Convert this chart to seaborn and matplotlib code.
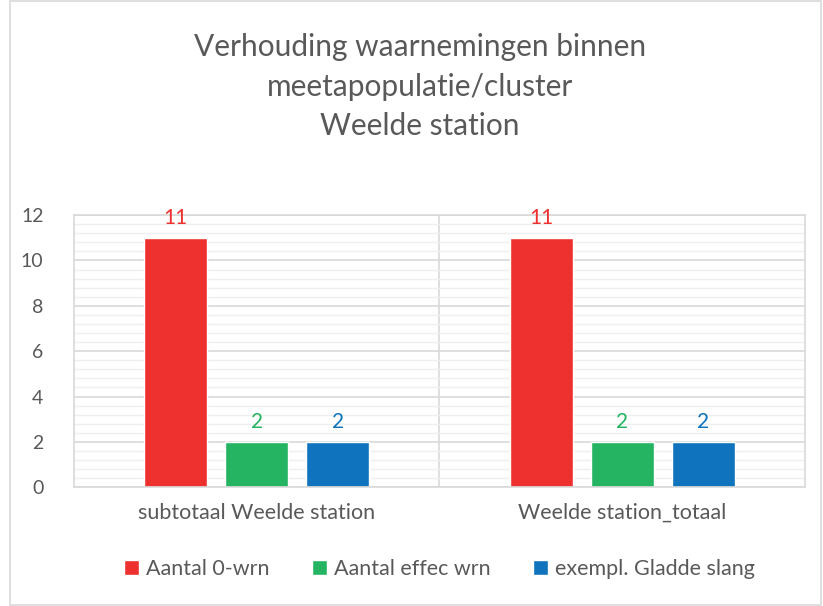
import pandas as pd
import matplotlib.pyplot as plt
import seaborn as sns
from matplotlib.patches import Rectangle
from matplotlib.ticker import MultipleLocator

categories = ["subtotaal Weelde station", "Weelde station_totaal"]
series = ["Aantal 0-wrn", "Aantal effec wrn", "exempl. Gladde slang"]
values = {
    "Aantal 0-wrn": [11, 11],
    "Aantal effec wrn": [2, 2],
    "exempl. Gladde slang": [2, 2],
}
colors = ["#EE312E", "#24B462", "#0F74BD"]
title = "Verhouding waarnemingen binnen\nmeetapopulatie/cluster\nWeelde station"

rows = []
for s in series:
    for c, v in zip(categories, values[s]):
        rows.append({"categorie": c, "reeks": s, "waarde": v})
df = pd.DataFrame(rows)

sns.set_style("white")
plt.rcParams["font.family"] = ["Lato", "DejaVu Sans"]
text_color = "#595959"

fig = plt.figure(figsize=(8.23, 6.06), dpi=100)
ax = fig.add_axes([0.09, 0.196, 0.888, 0.449])

sns.barplot(data=df, x="categorie", y="waarde", hue="reeks", order=categories,
            hue_order=series, palette=colors, width=0.666, gap=0.222,
            saturation=1, ax=ax)

for cont, col in zip(ax.containers, colors):
    ax.bar_label(cont, padding=7, color=col, fontsize=15)

ax.set_ylim(0, 12)
ax.set_xlim(-0.5, 1.5)
ax.yaxis.set_major_locator(MultipleLocator(2))
ax.yaxis.set_minor_locator(MultipleLocator(0.4))
ax.grid(which="major", axis="y", color="#D9D9D9", lw=1.2)
ax.grid(which="minor", axis="y", color="#EFEFEF", lw=1.0)
ax.set_axisbelow(True)
ax.axvline(0.5, color="#D9D9D9", lw=1.2, zorder=0)
for sp in ax.spines.values():
    sp.set_color("#D9D9D9")
    sp.set_linewidth(1.2)
ax.tick_params(axis="both", which="both", length=0, colors=text_color)
ax.tick_params(axis="y", pad=22, labelsize=14)
ax.tick_params(axis="x", pad=11, labelsize=15.5)
ax.set_xlabel("")
ax.set_ylabel("")

sns.move_legend(ax, "lower center", bbox_to_anchor=(0.5, -0.41), ncol=3,
                frameon=False, title=None, fontsize=15.5, handlelength=0.7,
                handleheight=0.7, handletextpad=0.3, columnspacing=2.0)
for t in ax.get_legend().get_texts():
    t.set_color(text_color)

fig.text(0.51, 0.857, title, ha="center", va="center", fontsize=21.5,
         color=text_color, linespacing=1.5)

fig.add_artist(Rectangle((0.012, 0.002), 0.985, 0.996, transform=fig.transFigure,
                         fill=False, edgecolor="#D9D9D9", lw=1.2))

fig.savefig("out.png", dpi=100)
